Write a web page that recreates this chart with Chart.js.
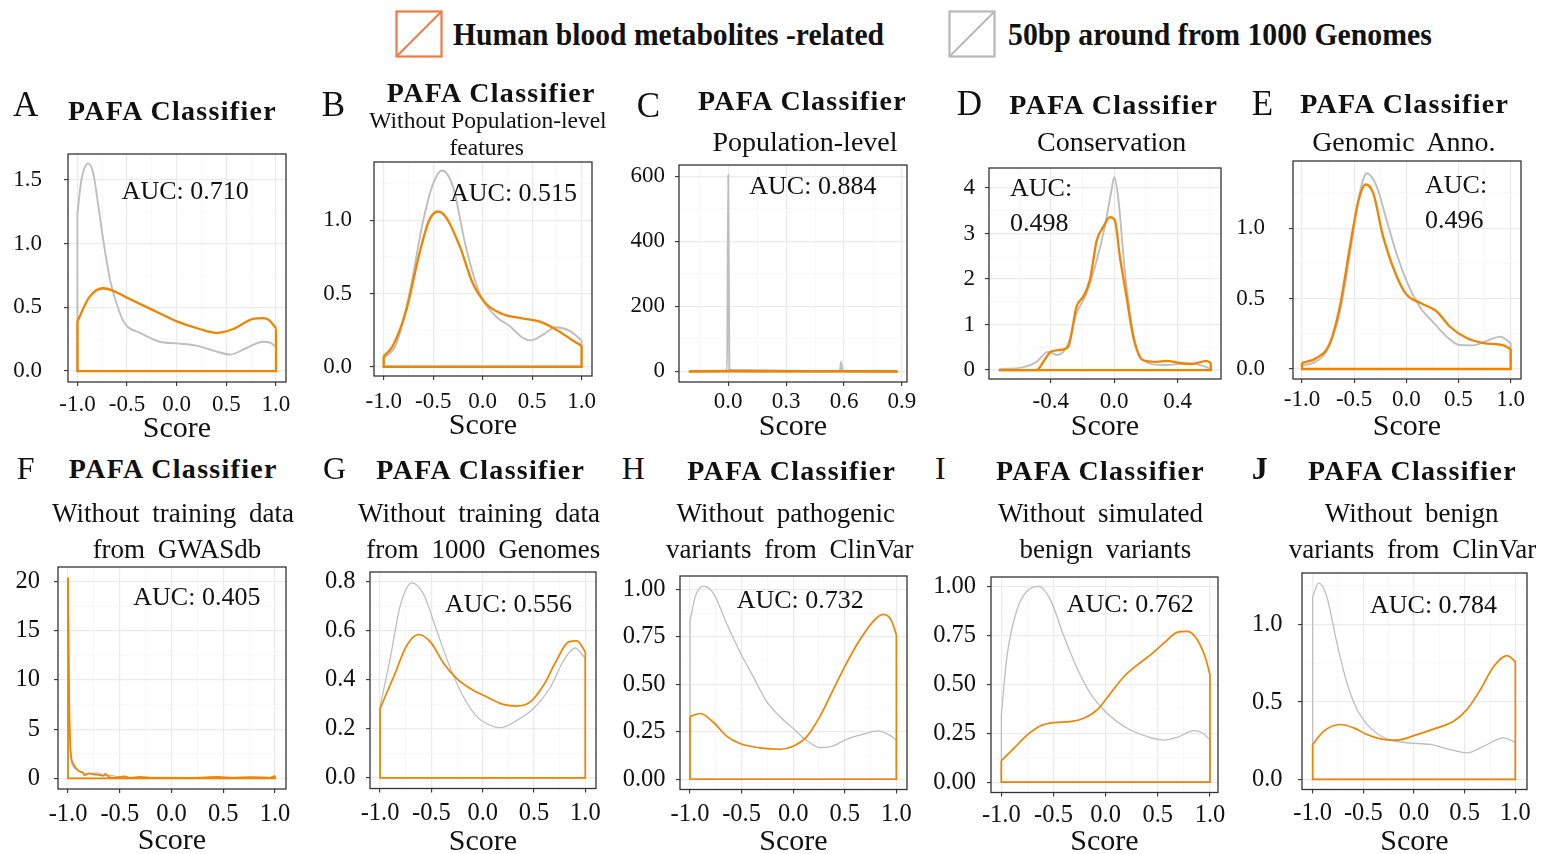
<!DOCTYPE html>
<html>
<head>
<meta charset="utf-8">
<script src="https://cdn.jsdelivr.net/npm/chart.js@4.4.0/dist/chart.umd.min.js"></script>
<style>
  body { margin: 0; background: #fff; width: 1551px; height: 854px; position: relative; overflow: hidden;
         font-family: "Liberation Serif", "Times New Roman", serif; color: #111; }
  canvas { position: absolute; }
  .t { position: absolute; white-space: nowrap; line-height: 1; z-index: 2; }
  .key { position: absolute; z-index: 2; }
</style>
</head>
<body>
<script>
// ---- data: [score, density] pairs ----
const A_blood = [[-1,0.39],[-0.88,0.58],[-0.74,0.65],[-0.64,0.63],[-0.51,0.58],[-0.27,0.49],[0,0.39],[0.23,0.33],[0.4,0.30],[0.57,0.33],[0.77,0.41],[0.87,0.415],[0.93,0.40],[1,0.335]];
const A_bg = [[-1,1.24],[-0.96,1.5],[-0.89,1.63],[-0.84,1.55],[-0.79,1.3],[-0.74,1.03],[-0.67,0.71],[-0.57,0.45],[-0.51,0.36],[-0.37,0.30],[-0.17,0.23],[0,0.217],[0.2,0.20],[0.37,0.16],[0.54,0.13],[0.70,0.18],[0.87,0.23],[0.95,0.22],[1,0.19]];
const B_blood = [[-1,0.073],[-0.91,0.14],[-0.77,0.39],[-0.64,0.77],[-0.54,1.0],[-0.45,1.06],[-0.37,1.02],[-0.23,0.82],[-0.10,0.57],[0.035,0.43],[0.20,0.36],[0.40,0.33],[0.57,0.31],[0.74,0.255],[0.91,0.18],[1,0.143]];
const B_bg = [[-1,0.057],[-0.87,0.16],[-0.74,0.5],[-0.60,1.0],[-0.50,1.25],[-0.41,1.34],[-0.30,1.23],[-0.17,0.82],[-0.03,0.5],[0.14,0.34],[0.27,0.28],[0.40,0.2],[0.49,0.18],[0.61,0.22],[0.74,0.27],[0.88,0.245],[1,0.18]];
const C_blood = [[-0.2,0.5],[0,1.5],[0.3,1],[0.6,0.8],[0.875,0.4]];
const C_bg = [[-0.2,0],[-0.006,0.5],[0,605],[0.006,6],[0.02,4],[0.15,3],[0.3,2],[0.45,1.5],[0.578,1],[0.585,30],[0.592,1],[0.7,0.5],[0.875,0.3]];
const D_blood = [[-0.726,0],[-0.49,0],[-0.44,0.22],[-0.40,0.40],[-0.343,0.44],[-0.29,0.51],[-0.238,1.39],[-0.196,1.61],[-0.154,1.97],[-0.11,2.85],[-0.07,3.14],[-0.027,3.36],[0.004,3.29],[0.036,2.49],[0.078,1.61],[0.12,0.73],[0.18,0.22],[0.27,0.18],[0.33,0.2],[0.39,0.17],[0.48,0.13],[0.55,0.18],[0.583,0.2],[0.61,0.15]];
const D_bg = [[-0.726,0.02],[-0.575,0.06],[-0.49,0.18],[-0.417,0.4],[-0.36,0.33],[-0.29,0.58],[-0.238,1.24],[-0.175,1.68],[-0.11,2.41],[-0.06,3.14],[-0.017,3.95],[0,4.24],[0.025,3.8],[0.067,2.19],[0.12,0.8],[0.18,0.22],[0.31,0.11],[0.48,0.15],[0.56,0.09],[0.604,0.03]];
const E_blood = [[-1,0.043],[-0.86,0.078],[-0.734,0.18],[-0.638,0.44],[-0.54,0.87],[-0.46,1.19],[-0.39,1.31],[-0.318,1.25],[-0.222,0.94],[-0.094,0.66],[0,0.53],[0.13,0.47],[0.29,0.41],[0.418,0.30],[0.578,0.22],[0.74,0.184],[0.93,0.168],[1,0.142]];
const E_bg = [[-1,0.026],[-0.894,0.043],[-0.766,0.125],[-0.638,0.4],[-0.54,0.82],[-0.46,1.2],[-0.38,1.39],[-0.286,1.30],[-0.19,1.06],[-0.094,0.82],[0,0.63],[0.13,0.44],[0.26,0.33],[0.386,0.23],[0.51,0.17],[0.64,0.168],[0.77,0.2],[0.9,0.23],[1,0.184]];
const F_blood = [[-1,20.4],[-0.99,9],[-0.975,2.8],[-0.95,1.5],[-0.92,1.0],[-0.89,0.7],[-0.86,0.6],[-0.84,0.3],[-0.8,0.5],[-0.75,0.4],[-0.7,0.35],[-0.66,0.25],[-0.64,0.45],[-0.6,0.1],[-0.55,0.05],[-0.5,0.15],[-0.45,0.2],[-0.4,0.03],[-0.3,0.15],[-0.2,0.05],[0,0.05],[0.2,0.05],[0.45,0.15],[0.6,0.05],[0.75,0.12],[0.95,0.05],[1,0.25]];
const F_bg = [[-1,19.5],[-0.99,8],[-0.975,2.5],[-0.95,1.2],[-0.9,0.8],[-0.8,0.45],[-0.72,0.55],[-0.65,0.3],[-0.58,0.3],[-0.5,0.1],[-0.3,0.1],[0,0.08],[0.5,0.05],[1,0.1]];
const G_blood = [[-1,0.283],[-0.87,0.41],[-0.74,0.54],[-0.626,0.585],[-0.51,0.555],[-0.38,0.467],[-0.252,0.405],[-0.122,0.365],[0.04,0.33],[0.20,0.30],[0.333,0.293],[0.463,0.31],[0.593,0.378],[0.72,0.48],[0.837,0.555],[0.919,0.559],[1,0.514]];
const G_bg = [[-1,0.29],[-0.90,0.49],[-0.805,0.70],[-0.69,0.796],[-0.577,0.75],[-0.447,0.60],[-0.317,0.45],[-0.187,0.33],[-0.057,0.25],[0.073,0.215],[0.17,0.205],[0.333,0.235],[0.496,0.283],[0.66,0.37],[0.79,0.48],[0.90,0.53],[1,0.487]];
const H_blood = [[-1,0.33],[-0.90,0.346],[-0.774,0.30],[-0.645,0.227],[-0.516,0.188],[-0.323,0.165],[-0.129,0.158],[0,0.174],[0.129,0.223],[0.258,0.33],[0.387,0.47],[0.516,0.61],[0.645,0.733],[0.774,0.83],[0.87,0.868],[0.95,0.838],[1,0.76]];
const H_bg = [[-1,0.83],[-0.95,0.96],[-0.87,1.017],[-0.774,0.98],[-0.645,0.82],[-0.516,0.67],[-0.387,0.54],[-0.258,0.41],[-0.129,0.33],[0,0.267],[0.129,0.205],[0.258,0.167],[0.355,0.17],[0.516,0.21],[0.677,0.237],[0.82,0.255],[0.935,0.232],[1,0.205]];
const I_blood = [[-1,0.11],[-0.88,0.173],[-0.754,0.241],[-0.626,0.288],[-0.498,0.305],[-0.338,0.31],[-0.21,0.327],[-0.082,0.37],[0.046,0.455],[0.174,0.54],[0.302,0.60],[0.43,0.652],[0.558,0.712],[0.686,0.767],[0.782,0.772],[0.878,0.73],[0.958,0.635],[1,0.55]];
const I_bg = [[-1,0.344],[-0.946,0.644],[-0.85,0.884],[-0.754,0.978],[-0.642,1.003],[-0.53,0.935],[-0.40,0.747],[-0.274,0.584],[-0.146,0.455],[-0.018,0.37],[0.11,0.31],[0.238,0.267],[0.40,0.233],[0.558,0.216],[0.686,0.23],[0.846,0.264],[0.926,0.253],[1,0.216]];
const J_blood = [[-1,0.226],[-0.89,0.312],[-0.727,0.355],[-0.595,0.333],[-0.464,0.29],[-0.332,0.262],[-0.168,0.254],[0.03,0.29],[0.227,0.333],[0.391,0.376],[0.523,0.452],[0.655,0.58],[0.786,0.73],[0.918,0.80],[1,0.763]];
const J_bg = [[-1,1.18],[-0.94,1.27],[-0.86,1.18],[-0.76,0.88],[-0.66,0.62],[-0.56,0.45],[-0.43,0.333],[-0.27,0.262],[-0.07,0.237],[0.16,0.226],[0.326,0.198],[0.523,0.172],[0.688,0.215],[0.885,0.269],[1,0.24]];

// tick labels
const scoreTicks = [-1, -0.5, 0, 0.5, 1];
const C_xTicks = [0, 0.3, 0.6, 0.9];
const D_xTicks = [-0.4, 0, 0.4];
const A_yTicks = [0, 0.5, 1, 1.5];
const B_yTicks = [0, 0.5, 1];
const C_yTicks = [0, 200, 400, 600];
const D_yTicks = [0, 1, 2, 3, 4];
const E_yTicks = [0, 0.5, 1];
const F_yTicks = [0, 5, 10, 15, 20];
const G_yTicks = [0, 0.2, 0.4, 0.6, 0.8];
const H_yTicks = [0, 0.25, 0.5, 0.75, 1];
const I_yTicks = [0, 0.25, 0.5, 0.75, 1];
const J_yTicks = [0, 0.5, 1];
const aucValues = ['0.710', '0.515', '0.884', '0.498', '0.496', '0.405', '0.556', '0.732', '0.762', '0.784'];
const seriesNames = ['Human blood metabolites -related', '50bp around from 1000 Genomes'];

const ORANGE = '#f08300';
const GREY = '#bebebe';
const SERIF = "'Liberation Serif', 'Times New Roman', serif";

// panel layout: box = plot area [left, top, right, bottom] in page px
const panels = [
  { blood: A_blood, bg: A_bg, xt: scoreTicks, yt: A_yTicks, xd: 1, yd: 1, box: [68.3, 154, 286, 382], xr: [-1.095, 1.101], yr: [-0.086, 1.704], yPad: 22, xPad: 5.5, xH: 65, row: 1 },
  { blood: B_blood, bg: B_bg, xt: scoreTicks, yt: B_yTicks, xd: 1, yd: 1, box: [374.3, 161.7, 592.7, 376], xr: [-1.098, 1.105], yr: [-0.063, 1.398], yPad: 18, xPad: 8.5, xH: 68, row: 1 },
  { blood: C_blood, bg: C_bg, xt: C_xTicks, yt: C_yTicks, xd: 1, yd: 0, box: [679, 165.3, 907.3, 382.3], xr: [-0.255, 0.926], yr: [-32.6, 635], yPad: 10, xPad: 2.5, xH: 63, row: 1 },
  { blood: D_blood, bg: D_bg, xt: D_xTicks, yt: D_yTicks, xd: 1, yd: 0, box: [989.3, 167.7, 1221, 379], xr: [-0.79, 0.674], yr: [-0.197, 4.44], yPad: 10, xPad: 5.5, xH: 66, row: 1 },
  { blood: E_blood, bg: E_bg, xt: scoreTicks, yt: E_yTicks, xd: 1, yd: 1, box: [1293.3, 161, 1521, 379.3], xr: [-1.086, 1.099], yr: [-0.071, 1.477], yPad: 24, xPad: 3.5, xH: 66, row: 1 },
  { blood: F_blood, bg: F_bg, xt: scoreTicks, yt: F_yTicks, xd: 1, yd: 0, box: [58.3, 567.3, 286, 789], xr: [-1.097, 1.106], yr: [-1.09, 21.49], yPad: 14, xPad: 7, xH: 70, row: 2 },
  { blood: G_blood, bg: G_bg, xt: scoreTicks, yt: G_yTicks, xd: 1, yd: 1, box: [370, 572, 595.7, 788.3], xr: [-1.098, 1.104], yr: [-0.043, 0.84], yPad: 10.5, xPad: 6, xH: 71.5, row: 2 },
  { blood: H_blood, bg: H_bg, xt: scoreTicks, yt: H_yTicks, xd: 1, yd: 2, box: [680, 576, 907.3, 789.3], xr: [-1.097, 1.103], yr: [-0.054, 1.07], yPad: 10.5, xPad: 6, xH: 70.5, row: 2 },
  { blood: I_blood, bg: I_bg, xt: scoreTicks, yt: I_yTicks, xd: 1, yd: 2, box: [990.7, 577.3, 1217.3, 792.3], xr: [-1.099, 1.077], yr: [-0.053, 1.051], yPad: 11, xPad: 4, xH: 67.5, row: 2 },
  { blood: J_blood, bg: J_bg, xt: scoreTicks, yt: J_yTicks, xd: 1, yd: 1, box: [1301.7, 573.3, 1526.7, 790], xr: [-1.105, 1.115], yr: [-0.065, 1.334], yPad: 15.5, xPad: 5, xH: 70.5, row: 2 }
];

function gridValues(majors, lo, hi) {
  const half = (majors[1] - majors[0]) / 2;
  const k0 = Math.ceil((lo - majors[0]) / half - 1e-9);
  const k1 = Math.floor((hi - majors[0]) / half + 1e-9);
  const out = [];
  for (let k = k0; k <= k1; k++) out.push(+(majors[0] + k * half).toFixed(6));
  return out;
}

function isMajor(majors, v) {
  return majors.some(m => Math.abs(m - v) < 1e-6);
}

function axisOpts(majors, range, dec, fontSize, pad, fit) {
  const vals = gridValues(majors, range[0], range[1]);
  return {
    type: 'linear', min: range[0], max: range[1], bounds: 'data',
    afterBuildTicks: s => { s.ticks = vals.map(v => ({ value: v })); },
    afterFit: fit,
    border: { display: false },
    grid: {
      color: c => isMajor(majors, c.tick.value) ? '#ebebeb' : '#f5f5f5',
      lineWidth: c => isMajor(majors, c.tick.value) ? 1.2 : 0.7,
      tickColor: c => isMajor(majors, c.tick.value) ? '#333' : 'rgba(0,0,0,0)',
      tickWidth: 1.1,
      tickLength: 4
    },
    ticks: {
      autoSkip: false, maxRotation: 0, minRotation: 0, padding: pad, color: '#111',
      font: { family: SERIF, size: fontSize },
      callback: v => isMajor(majors, v) ? Number(v).toFixed(dec) : ''
    }
  };
}

const framePlugin = {
  id: 'frame',
  afterDatasetsDraw(chart) {
    const { ctx, chartArea: a } = chart;
    ctx.save();
    ctx.strokeStyle = '#333';
    ctx.lineWidth = 1.3;
    ctx.strokeRect(a.left, a.top, a.right - a.left, a.bottom - a.top);
    ctx.restore();
  }
};

function seriesSets(pts, color, width) {
  const first = pts[0], last = pts[pts.length - 1];
  return [
    { data: pts.map(([x, y]) => ({ x, y })), borderColor: color, borderWidth: width,
      pointRadius: 0, cubicInterpolationMode: 'monotone', fill: false },
    { data: [{ x: first[0], y: first[1] }, { x: first[0], y: 0 }, { x: last[0], y: 0 }, { x: last[0], y: last[1] }],
      borderColor: color, borderWidth: width, pointRadius: 0, tension: 0, fill: false }
  ];
}

const PAD_TOP = 50, PAD_RIGHT = 32, Y_W = 90;

panels.forEach(p => {
  const [L, T, R, B] = p.box;
  const fs = p.row === 1 ? 23 : 24.5;
  const wO = p.row === 1 ? 2.3 : 1.7, wG = p.row === 1 ? 1.9 : 1.3;
  const cv = document.createElement('canvas');
  const w = Math.round(Y_W + (R - L) + PAD_RIGHT), h = Math.round(PAD_TOP + (B - T) + p.xH);
  cv.width = w; cv.height = h;
  cv.style.width = w + 'px'; cv.style.height = h + 'px';
  cv.style.left = (L - Y_W) + 'px';
  cv.style.top = (T - PAD_TOP) + 'px';
  document.body.appendChild(cv);

  const xAxis = axisOpts(p.xt, p.xr, p.xd, fs, p.xPad, s => { s.height = p.xH; });
  xAxis.title = { display: true, text: 'Score', color: '#111', padding: 0, font: { family: SERIF, size: 30 } };
  const yAxis = axisOpts(p.yt, p.yr, p.yd, fs, p.yPad, s => { s.width = Y_W; });

  new Chart(cv, {
    type: 'line',
    data: { datasets: [...seriesSets(p.blood, ORANGE, wO), ...seriesSets(p.bg, GREY, wG)] },
    options: {
      responsive: false, animation: false, devicePixelRatio: 1,
      layout: { padding: { top: PAD_TOP, right: PAD_RIGHT, left: 0, bottom: 0 } },
      plugins: { legend: { display: false }, tooltip: { enabled: false } },
      scales: { x: xAxis, y: yAxis }
    },
    plugins: [framePlugin]
  });
});

// ---- text ----
function txt(s, x, base, size, o = {}) {
  const d = document.createElement('div');
  d.className = 't';
  d.textContent = s;
  d.style.fontSize = size + 'px';
  d.style.top = (base - 0.8375 * size) + 'px';
  d.style.left = x + 'px';
  if (o.bold) d.style.fontWeight = 'bold';
  if (o.ls) d.style.letterSpacing = o.ls + 'px';
  if (o.ws) d.style.wordSpacing = o.ws + 'px';
  if (o.center) d.style.transform = 'translateX(-50%)';
  document.body.appendChild(d);
  if (o.fitW) {
    d.style.transformOrigin = '0 0';
    d.style.transform = 'scaleX(' + (o.fitW / d.offsetWidth) + ')';
  }
  return d;
}

const letters = [['A', 13, 116.7], ['B', 321.7, 116.7], ['C', 636.7, 117], ['D', 956.7, 115], ['E', 1251.7, 115],
                 ['F', 16.7, 478.3], ['G', 323, 478.3], ['H', 621.7, 478.3], ['I', 935, 478.3], ['J', 1251.7, 478.3]];
letters.forEach(([s, x, y], i) => txt(s, x, y, i < 5 ? 35 : 32, s === 'J' ? { bold: true } : {}));

const titlePos = [[172.5, 120], [491.3, 102], [802.5, 110], [1113.8, 114], [1404.7, 113],
                  [173.3, 478.5], [480.8, 479], [791.7, 480], [1100.5, 480], [1412.5, 480]];
titlePos.forEach(([x, y]) => txt('PAFA Classifier', x, y, 28, { bold: true, ls: 1.3, center: true }));

txt('Without Population-level', 488, 128.3, 23.5, { center: true });
txt('features', 486.7, 156, 23.5, { center: true });
txt('Population-level', 805, 151, 28, { center: true });
txt('Conservation', 1111.7, 151.7, 28, { center: true });
txt('Genomic Anno.', 1403.8, 151.7, 28, { center: true, ws: 6 });
const subs2 = [
  ['Without training data', 173, 'from GWASdb', 177],
  ['Without training data', 479, 'from 1000 Genomes', 483.3],
  ['Without pathogenic', 785.8, 'variants from ClinVar', 789.7],
  ['Without simulated', 1100.5, 'benign variants', 1105.3],
  ['Without benign', 1411.7, 'variants from ClinVar', 1412.5]
];
subs2.forEach(([a, ax, b, bx]) => {
  txt(a, ax, 522.7, 27, { center: true, ws: 6 });
  txt(b, bx, 558.3, 27, { center: true, ws: 6 });
});

const aucPos = [[121.7, 200], [450, 201.7], [749.3, 195], [1010, 196.7], [1425, 193.3],
                [133.3, 606], [445, 612.7], [736.7, 608.3], [1066.7, 612.7], [1370, 613.3]];
aucPos.forEach(([x, y], i) => {
  if (i === 3 || i === 4) {
    txt('AUC:', x, y, 26);
    txt(aucValues[i], x, y + 35, 26);
  } else {
    txt('AUC: ' + aucValues[i], x, y, 26);
  }
});

// legend keys
function key(x, y, color) {
  const ns = 'http://www.w3.org/2000/svg';
  const svg = document.createElementNS(ns, 'svg');
  svg.setAttribute('class', 'key');
  svg.setAttribute('width', 48); svg.setAttribute('height', 48);
  svg.style.left = x + 'px'; svg.style.top = y + 'px';
  svg.innerHTML = '<rect x="1.5" y="1.5" width="45" height="45" fill="#fff" stroke="' + color + '" stroke-width="2.2"/>' +
                  '<line x1="2" y1="46" x2="46" y2="2" stroke="' + color + '" stroke-width="2"/>';
  document.body.appendChild(svg);
}
key(395, 10, '#ef7b42');
key(948, 10, '#b8b8b8');
txt(seriesNames[0], 453, 45, 32, { bold: true, fitW: 431 });
txt(seriesNames[1], 1008, 45, 32, { bold: true, fitW: 424 });
</script>
</body>
</html>
